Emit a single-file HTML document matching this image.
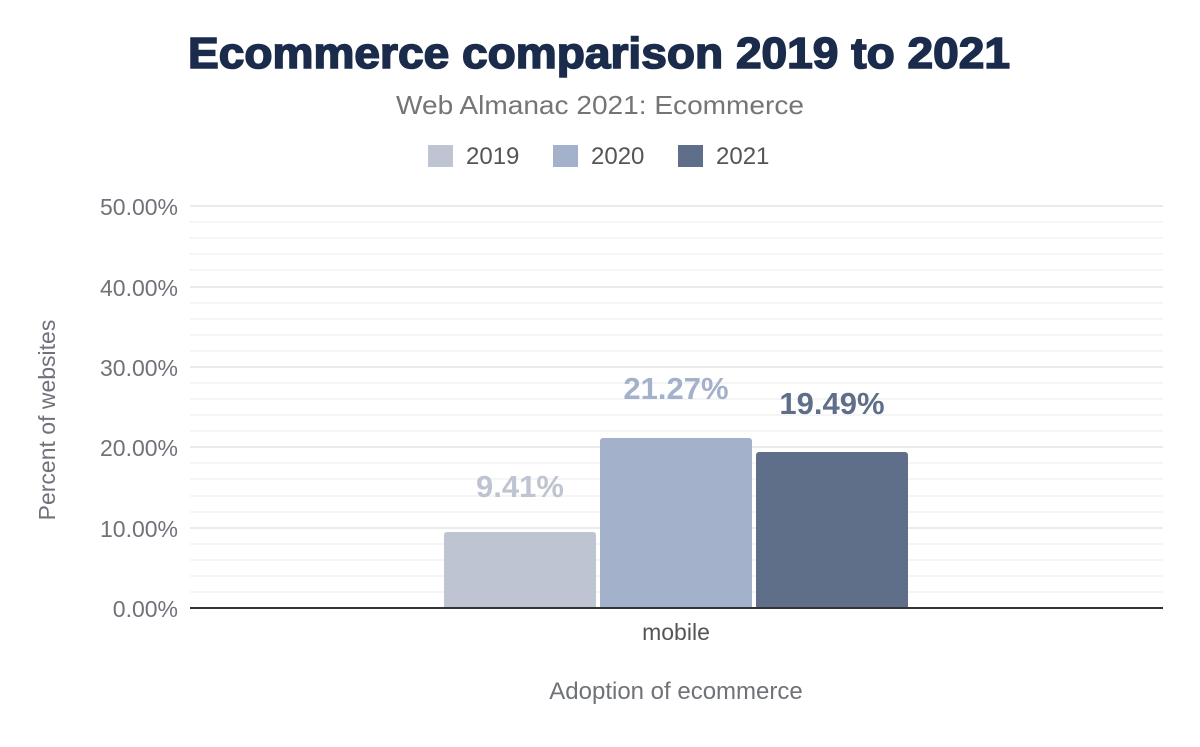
<!DOCTYPE html>
<html><head><meta charset="utf-8"><style>
body{margin:0;background:#fff;width:1200px;height:742px;overflow:hidden}
</style></head><body>
<svg width="1200" height="742" xmlns="http://www.w3.org/2000/svg" font-family="Liberation Sans, Arial, sans-serif">
<text x="188" y="68" textLength="822" lengthAdjust="spacingAndGlyphs" font-size="44" font-weight="900" fill="#1a2b4b" stroke="#1a2b4b" stroke-width="1.6">Ecommerce comparison 2019 to 2021</text>
<text x="396" y="114" textLength="408" lengthAdjust="spacingAndGlyphs" font-size="26" fill="#757575">Web Almanac 2021: Ecommerce</text>
<rect x="428" y="145" width="25" height="22" fill="#bec4d1"/><text x="466" y="164" font-size="24" fill="#555">2019</text>
<rect x="553" y="145" width="25" height="22" fill="#a4b1ca"/><text x="591" y="164" font-size="24" fill="#555">2020</text>
<rect x="678" y="145" width="25" height="22" fill="#5f6e89"/><text x="716" y="164" font-size="24" fill="#555">2021</text>
<g stroke="#f2f2f2" stroke-width="1.5">
<line x1="190" x2="1163" y1="222" y2="222"/><line x1="190" x2="1163" y1="238" y2="238"/><line x1="190" x2="1163" y1="254" y2="254"/><line x1="190" x2="1163" y1="270" y2="270"/>
<line x1="190" x2="1163" y1="303" y2="303"/><line x1="190" x2="1163" y1="319" y2="319"/><line x1="190" x2="1163" y1="335" y2="335"/><line x1="190" x2="1163" y1="351" y2="351"/>
<line x1="190" x2="1163" y1="383" y2="383"/><line x1="190" x2="1163" y1="399" y2="399"/><line x1="190" x2="1163" y1="415" y2="415"/><line x1="190" x2="1163" y1="431" y2="431"/>
<line x1="190" x2="1163" y1="463" y2="463"/><line x1="190" x2="1163" y1="479" y2="479"/><line x1="190" x2="1163" y1="496" y2="496"/><line x1="190" x2="1163" y1="512" y2="512"/>
<line x1="190" x2="1163" y1="544" y2="544"/><line x1="190" x2="1163" y1="560" y2="560"/><line x1="190" x2="1163" y1="576" y2="576"/><line x1="190" x2="1163" y1="592" y2="592"/>
</g>
<g stroke="#ebebeb" stroke-width="2">
<line x1="190" x2="1163" y1="206" y2="206"/><line x1="190" x2="1163" y1="287" y2="287"/><line x1="190" x2="1163" y1="367" y2="367"/><line x1="190" x2="1163" y1="447" y2="447"/><line x1="190" x2="1163" y1="528" y2="528"/>
</g>
<g font-size="23" fill="#6f7379" text-anchor="end">
<text x="178" y="215">50.00%</text><text x="178" y="296">40.00%</text><text x="178" y="376">30.00%</text><text x="178" y="456">20.00%</text><text x="178" y="537">10.00%</text><text x="178" y="617">0.00%</text>
</g>
<path d="M444 608V535a3 3 0 0 1 3-3h146a3 3 0 0 1 3 3V608Z" fill="#bec4d1"/>
<path d="M600 608V441a3 3 0 0 1 3-3h146a3 3 0 0 1 3 3V608Z" fill="#a4b1ca"/>
<path d="M756 608V455a3 3 0 0 1 3-3h146a3 3 0 0 1 3 3V608Z" fill="#5f6e89"/>
<line x1="190" x2="1163" y1="608" y2="608" stroke="#333" stroke-width="2"/>
<g font-size="31" font-weight="bold" text-anchor="middle">
<text x="520" y="497" fill="#bec4d1">9.41%</text>
<text x="676" y="399" fill="#a4b1ca">21.27%</text>
<text x="832" y="414" fill="#5f6e89">19.49%</text>
</g>
<text x="676" y="640" text-anchor="middle" font-size="23" fill="#555">mobile</text>
<text x="676" y="699" text-anchor="middle" font-size="24" fill="#6f7379">Adoption of ecommerce</text>
<text transform="translate(55,420) rotate(-90)" text-anchor="middle" font-size="23" fill="#6f7379">Percent of websites</text>
</svg>
</body></html>
